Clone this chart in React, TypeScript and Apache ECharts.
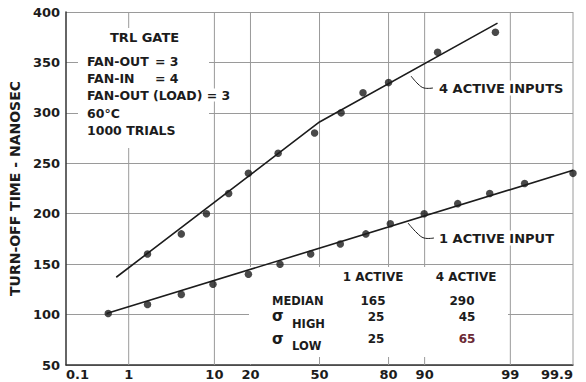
import React, { useEffect, useRef } from "react";
import * as echarts from "echarts";

// ---- data (cumulative percent vs turn-off time, ns) ----
const xTickPercents = [0.1, 1, 10, 20, 50, 80, 90, 99, 99.9];
const xTickLabels = ["0.1", "1", "10", "20", "50", "80", "90", "99", "99.9"];
const xGridPercents = [1, 10, 20, 50, 80, 90, 99, 99.9];

const fourActivePercent = [1.8, 4.6, 8.4, 13.4, 19.3, 30.7, 47.6, 60.4, 70.2, 80.0, 92.5, 98.4];
const fourActiveNs = [160, 180, 200, 220, 240, 260, 280, 300, 320, 330, 360, 380];

const oneActivePercent = [0.5, 1.8, 4.6, 9.7, 19.3, 31.5, 45.7, 60.0, 71.4, 80.6, 89.9, 95.4, 98.1, 99.38, 99.9];
const oneActiveNs = [101, 110, 120, 130, 140, 150, 160, 170, 180, 190, 200, 210, 220, 230, 240];

const fitFourPercent = [0.66, 50, 98.5];
const fitFourNs = [137, 291, 389];
const fitOnePercent = [0.47, 99.9];
const fitOneNs = [101, 243];

const infoTitle = "TRL GATE";
const infoLabels = ["FAN-OUT", "FAN-IN"];
const infoValues = ["= 3", "= 4"];
const infoLoad = "FAN-OUT (LOAD) = 3";
const infoTemp = "60°C";
const infoTrials = "1000 TRIALS";

const tableHeaders = ["1 ACTIVE", "4 ACTIVE"];
const oneActiveStats = ["165", "25", "25"];
const fourActiveStats = ["290", "45", "65"];

const label4 = "4 ACTIVE INPUTS";
const label1 = "1 ACTIVE INPUT";

// inverse normal CDF (probability-paper scale)
function probit(p: number): number {
  const a = [-3.969683028665376e1, 2.209460984245205e2, -2.759285104469687e2, 1.38357751867269e2, -3.066479806614716e1, 2.506628277459239];
  const b = [-5.447609879822406e1, 1.615858368580409e2, -1.556989798598866e2, 6.680131188771972e1, -1.328068155288572e1];
  const c = [-7.784894002430293e-3, -3.223964580411365e-1, -2.400758277161838, -2.549732539343734, 4.374664141464968, 2.938163982698783];
  const d = [7.784695709041462e-3, 3.224671290700398e-1, 2.445134137142996, 3.754408661907416];
  const pl = 0.02425;
  if (p < pl) {
    const q = Math.sqrt(-2 * Math.log(p));
    return (((((c[0] * q + c[1]) * q + c[2]) * q + c[3]) * q + c[4]) * q + c[5]) / ((((d[0] * q + d[1]) * q + d[2]) * q + d[3]) * q + 1);
  }
  if (p <= 1 - pl) {
    const q = p - 0.5;
    const r = q * q;
    return ((((((a[0] * r + a[1]) * r + a[2]) * r + a[3]) * r + a[4]) * r + a[5]) * q) / (((((b[0] * r + b[1]) * r + b[2]) * r + b[3]) * r + b[4]) * r + 1);
  }
  const q = Math.sqrt(-2 * Math.log(1 - p));
  return -(((((c[0] * q + c[1]) * q + c[2]) * q + c[3]) * q + c[4]) * q + c[5]) / ((((d[0] * q + d[1]) * q + d[2]) * q + d[3]) * q + 1);
}
const probZ = (pct: number) => probit(pct / 100);

const INK = "#1c1c1c";
const GRID = "#9a9a9a";
const FONT = "DejaVu Sans";

export default function App() {
  const ref = useRef<HTMLDivElement>(null);
  useEffect(() => {
    if (!ref.current) return;
    const chart = echarts.init(ref.current, null, { renderer: "svg" });
    const zTicks = xTickPercents.map(probZ);
    const zMin = probZ(0.1);
    const zMax = probZ(99.9);

    const txt = (text: string, x: number, y: number, extra: any = {}) => ({
      type: "text",
      x,
      y,
      z: 10,
      style: {
        text,
        fill: INK,
        fontFamily: FONT,
        fontWeight: "bold",
        fontSize: 12.5,
        align: "left",
        verticalAlign: "middle",
        ...extra,
      },
    });

    const gridData: any[] = [];
    xGridPercents.forEach((p, i) => {
      if (i > 0) gridData.push(["-", "-"]);
      gridData.push([probZ(p), 50]);
      gridData.push([probZ(p), 400]);
    });

    chart.setOption({
      animation: false,
      backgroundColor: "#ffffff",
      grid: { left: 59, right: 13, top: 12, bottom: 17 },
      xAxis: {
        type: "value",
        min: zMin,
        max: zMax,
        axisLine: { show: true, onZero: false, lineStyle: { color: "#333", width: 1.5 } },
        axisTick: { show: false },
        splitLine: { show: false },
        axisLabel: {
          customValues: zTicks,
          margin: 3,
          color: INK,
          fontFamily: FONT,
          fontWeight: "bold",
          fontSize: 13,
          alignMinLabel: "left",
          alignMaxLabel: "right",
          formatter: (v: number) => {
            const i = zTicks.findIndex((t) => Math.abs(t - v) < 1e-6);
            return i >= 0 ? xTickLabels[i] : "";
          },
        },
      },
      yAxis: {
        type: "value",
        min: 50,
        max: 400,
        interval: 50,
        name: "TURN-OFF TIME - NANOSEC",
        nameLocation: "middle",
        nameGap: 40,
        nameTextStyle: { color: INK, fontFamily: FONT, fontWeight: "bold", fontSize: 14 },
        axisLine: { show: true, onZero: false, lineStyle: { color: "#333", width: 1.5 } },
        axisTick: { show: false },
        splitLine: { show: true, lineStyle: { color: GRID, width: 1 } },
        axisLabel: { margin: 6, color: INK, fontFamily: FONT, fontWeight: "bold", fontSize: 13 },
      },
      series: [
        {
          type: "line",
          silent: true,
          z: 1,
          symbol: "none",
          connectNulls: false,
          lineStyle: { color: GRID, width: 1 },
          data: gridData,
        },
        {
          type: "line",
          silent: true,
          z: 3,
          symbol: "none",
          lineStyle: { color: INK, width: 1.6 },
          data: fitFourPercent.map((p, i) => [probZ(p), fitFourNs[i]]),
        },
        {
          type: "line",
          silent: true,
          z: 3,
          symbol: "none",
          lineStyle: { color: INK, width: 1.6 },
          data: fitOnePercent.map((p, i) => [probZ(p), fitOneNs[i]]),
        },
        {
          type: "scatter",
          z: 4,
          symbolSize: 7.5,
          itemStyle: { color: INK },
          clip: false,
          data: fourActivePercent.map((p, i) => [probZ(p), fourActiveNs[i]]),
        },
        {
          type: "scatter",
          z: 4,
          symbolSize: 7.5,
          itemStyle: { color: INK },
          clip: false,
          data: oneActivePercent.map((p, i) => [probZ(p), oneActiveNs[i]]),
        },
      ],
      graphic: [
        // white patches behind annotations
        { type: "rect", z: 2, shape: { x: 78, y: 28, width: 131, height: 120 }, style: { fill: "#fff" } },
        { type: "rect", z: 2, shape: { x: 249, y: 267, width: 259, height: 90 }, style: { fill: "#fff" } },
        { type: "rect", z: 2, shape: { x: 245, y: 318, width: 10, height: 46 }, style: { fill: "#fff" } },
        // info block
        txt(infoTitle, 110, 37, { fontSize: 13 }),
        txt(infoLabels[0], 87, 61),
        txt(infoValues[0], 155, 61),
        txt(infoLabels[1], 87, 78),
        txt(infoValues[1], 155, 78),
        txt(infoLoad, 87, 95, { backgroundColor: "#fff", padding: [0, 2, 0, 0] }),
        txt(infoTemp, 87, 113),
        txt(infoTrials, 87, 130),
        // series labels + leaders
        txt(label4, 437, 88, { fontSize: 13, backgroundColor: "#fff", padding: [1, 2, 1, 2] }),
        txt(label1, 437, 238, { fontSize: 13, backgroundColor: "#fff", padding: [1, 2, 1, 2] }),
        {
          type: "polyline",
          z: 10,
          shape: { points: [[411, 76], [418, 84], [424, 88], [433, 88]], smooth: 0.4 },
          style: { stroke: INK, lineWidth: 1, fill: "none" },
        },
        {
          type: "polyline",
          z: 10,
          shape: { points: [[408, 223], [417, 233], [424, 238], [434, 238]], smooth: 0.4 },
          style: { stroke: INK, lineWidth: 1, fill: "none" },
        },
        // table
        txt(tableHeaders[0], 373, 277, { align: "center", fontSize: 12 }),
        txt(tableHeaders[1], 466, 277, { align: "center", fontSize: 12 }),
        txt("MEDIAN", 272, 301, { fontSize: 11.5 }),
        txt("σ", 272, 316, { fontSize: 15 }),
        txt("HIGH", 292, 324, { fontSize: 11.5 }),
        txt("σ", 272, 339, { fontSize: 15 }),
        txt("LOW", 292, 346, { fontSize: 11.5 }),
        txt(oneActiveStats[0], 373, 301, { align: "center", fontSize: 12 }),
        txt(oneActiveStats[1], 376, 317, { align: "center", fontSize: 12 }),
        txt(oneActiveStats[2], 376, 339, { align: "center", fontSize: 12 }),
        txt(fourActiveStats[0], 462, 301, { align: "center", fontSize: 12 }),
        txt(fourActiveStats[1], 467, 317, { align: "center", fontSize: 12 }),
        txt(fourActiveStats[2], 467, 339, { align: "center", fontSize: 12, fill: "#6b2a35" }),
      ],
    });
    return () => chart.dispose();
  }, []);
  return (
    <div
      ref={ref}
      style={{ position: "fixed", left: 0, top: 0, width: 586, height: 382, background: "#fff" }}
    />
  );
}
